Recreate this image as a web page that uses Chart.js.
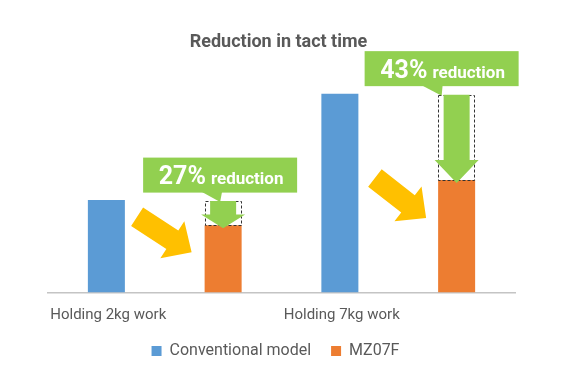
<!DOCTYPE html>
<html>
<head>
<meta charset="utf-8">
<script src="https://cdn.jsdelivr.net/npm/chart.js@4"></script>
<style>
  html, body { margin: 0; padding: 0; background: #ffffff; }
  canvas { display: block; }
</style>
</head>
<body>
<canvas id="c" width="575" height="380"></canvas>
<script>
// ---- data ----
const categories = ['Holding 2kg work', 'Holding 7kg work'];
const seriesNames = ['Conventional model', 'MZ07F'];
const conventional = [92, 198];
const mz07f = [67, 112];
const reductionPct = ['27%', '43%'];
const reductionWord = 'reduction';
const chartTitle = 'Reduction in tact time';

// ---- styling / decoration placement (not data) ----
const BLUE = '#5b9bd5', ORANGE = '#ed7d31', GREEN = '#92d050', YELLOW = '#ffc000', GREY = '#595959';
const decor = [
  { boxDx: -80, tailDx: -1, tipDx: -3, yTip: [-13, 27], yAngle: 33 },
  { boxDx: -92, tailDx: -14, tipDx: -15, yTip: [-12, 38], yAngle: 38 }
];

const nudgePlugin = {
  id: 'nudge',
  afterLayout(chart) {
    if (chart.legend) { chart.legend.left -= 6; chart.legend.right -= 6; }
    if (chart.titleBlock) { chart.titleBlock.left -= 3; chart.titleBlock.right -= 3; }
  }
};

const decorPlugin = {
  id: 'decor',
  afterDatasetsDraw(chart) {
    const ctx = chart.ctx;
    const m0 = chart.getDatasetMeta(0), m1 = chart.getDatasetMeta(1);
    categories.forEach((cat, i) => {
      const b = m0.data[i], o = m1.data[i];
      const cx = o.x, w = o.width, oL = cx - w / 2;
      const blueTop = b.y, orTop = o.y;
      const d = decor[i];
      ctx.save();
      // yellow arrow
      ctx.translate(oL + d.yTip[0], orTop + d.yTip[1]);
      ctx.rotate(d.yAngle * Math.PI / 180);
      ctx.beginPath();
      ctx.moveTo(-65, -11); ctx.lineTo(-23, -11); ctx.lineTo(-23, -22); ctx.lineTo(0, 0);
      ctx.lineTo(-23, 22); ctx.lineTo(-23, 11); ctx.lineTo(-65, 11); ctx.closePath();
      ctx.fillStyle = YELLOW; ctx.fill();
      ctx.restore();

      ctx.save();
      // dashed box
      ctx.setLineDash([3, 2]);
      ctx.strokeStyle = '#333333'; ctx.lineWidth = 1;
      ctx.strokeRect(Math.round(oL) + 0.5, Math.round(blueTop) + 1.5, Math.round(w) - 1, Math.round(orTop - blueTop) - 1);
      ctx.setLineDash([]);
      // green down arrow
      const gap = orTop - blueTop;
      const headH = Math.min(23, gap * 0.55);
      const tipY = orTop + 3;
      ctx.beginPath();
      ctx.moveTo(cx - 13, blueTop + 1);
      ctx.lineTo(cx + 13, blueTop + 1);
      ctx.lineTo(cx + 13, tipY - headH);
      ctx.lineTo(cx + 22, tipY - headH);
      ctx.lineTo(cx, tipY);
      ctx.lineTo(cx - 22, tipY - headH);
      ctx.lineTo(cx - 13, tipY - headH);
      ctx.closePath();
      ctx.fillStyle = GREEN; ctx.fill();
      // callout box + tail
      const boxBottom = blueTop - 7.5, boxH = 35, boxW = 154;
      const boxL = cx + d.boxDx;
      ctx.fillRect(boxL, boxBottom - boxH, boxW, boxH);
      ctx.beginPath();
      ctx.moveTo(cx + d.tailDx - 21, boxBottom - 1);
      ctx.lineTo(cx + d.tailDx, boxBottom - 1);
      ctx.lineTo(cx + d.tipDx, blueTop + 2);
      ctx.closePath();
      ctx.fill();
      // text
      ctx.fillStyle = '#ffffff';
      ctx.textBaseline = 'alphabetic';
      const fBig = 'bold 25px Roboto', fSmall = 'bold 17px Roboto';
      ctx.font = fBig; const wBig = ctx.measureText(reductionPct[i]).width;
      ctx.font = fSmall; const wSmall = ctx.measureText(reductionWord).width;
      const total = wBig + 5 + wSmall;
      const tx = boxL + boxW / 2 - total / 2 + 1;
      const ty = boxBottom - 8.5;
      ctx.textAlign = 'left';
      ctx.font = fBig; ctx.fillText(reductionPct[i], tx, ty);
      ctx.font = fSmall; ctx.fillText(reductionWord, tx + wBig + 5, ty);
      ctx.restore();
    });
  }
};

new Chart(document.getElementById('c'), {
  type: 'bar',
  data: {
    labels: categories,
    datasets: [
      { label: seriesNames[0], data: conventional, backgroundColor: BLUE },
      { label: seriesNames[1], data: mz07f, backgroundColor: ORANGE }
    ]
  },
  options: {
    responsive: false,
    animation: false,
    layout: { padding: { left: 48, right: 60, top: 0, bottom: 11 } },
    datasets: { bar: { categoryPercentage: 1.0, barPercentage: 0.317 } },
    scales: {
      x: {
        grid: { display: false },
        border: { display: true, color: '#c4c4c4', width: 1.5 },
        ticks: {
          align: 'start', labelOffset: -114.5, padding: 6,
          color: GREY, font: { family: 'Roboto', size: 15 }
        },
        afterFit: (scale) => { scale.height = 30.5; }
      },
      y: { display: false, min: 0, max: 231.5 }
    },
    plugins: {
      title: {
        display: true, text: chartTitle, color: GREY,
        font: { family: 'Roboto', size: 18, weight: 'bold' },
        padding: { top: 32, bottom: 6.4 }
      },
      legend: {
        position: 'bottom',
        labels: { boxWidth: 10, boxHeight: 10, padding: 20, color: GREY, font: { family: 'Roboto', size: 16 } }
      },
      tooltip: { enabled: false }
    }
  },
  plugins: [nudgePlugin, decorPlugin]
});
</script>
</body>
</html>
